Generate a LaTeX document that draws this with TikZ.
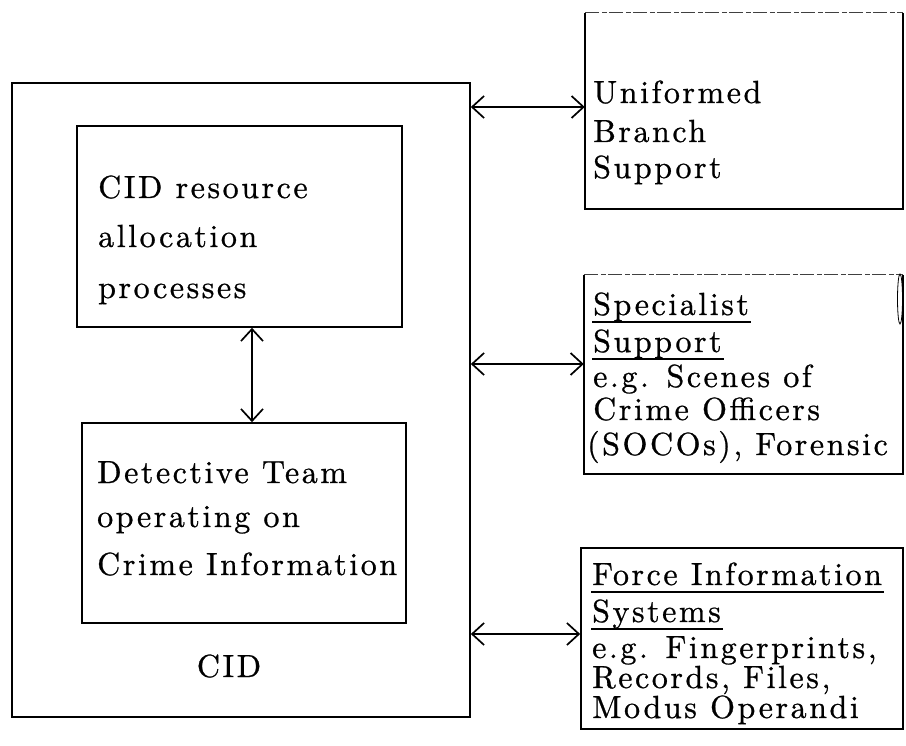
\documentclass[tikz,border=0pt]{standalone}
\usepackage{fontspec}
\usetikzlibrary{arrows.meta}
\newfontfamily\typefont{lmroman10-regular}[Extension=.otf, LetterSpace=8, FakeBold=0.8]
\begin{document}
\begin{tikzpicture}[x=1pt,y=-1pt,
  box/.style={draw, line width=1.6pt, inner sep=0pt},
  frame/.style={inner sep=0pt},
  edge/.style={line width=1.6pt},
  faded/.style={line width=1.2pt, black!75, dash pattern=on 14pt off 3pt on 5pt off 2pt},
  txt/.style={anchor=base west, inner sep=0pt,
    font=\typefont\fontsize{32}{38}\selectfont},
  link/.style={line width=1.7pt,
    {Straight Barb[length=12pt,width=22pt]}-{Straight Barb[length=12pt,width=22pt]}},
  uline/.style={line width=1.4pt}]
\useasboundingbox (0,0) rectangle (906,746);

% CID and its two inner boxes
\node[box, minimum width=458pt, minimum height=634pt] (cid) at (241,400) {};
\node[box, minimum width=325pt, minimum height=201pt] (res) at (239.5,226.5) {};
\node[box, minimum width=324pt, minimum height=200pt] (det) at (244,523) {};

\node[txt] (r1) at (98,198) {CID resource};
\node[txt] (r2) at (98,247) {allocation};
\node[txt] (r3) at (98,298) {processes};

\node[txt] (d1) at (97,483) {Detective Team};
\node[txt] (d2) at (97,527) {operating on};
\node[txt] (d3) at (97,575) {Crime Information};

\node[txt, anchor=base] (cidlabel) at (229,677) {CID};

% support boxes on the right; the upper two have a faint top edge
\node[frame, minimum width=318pt, minimum height=196pt] (uni) at (744,111) {};
\node[frame, minimum width=319pt, minimum height=199pt] (spe) at (743.5,374.5) {};
\node[box, minimum width=322pt, minimum height=181pt] (frc) at (742,638.5) {};
\foreach \b in {uni,spe} {
  \draw[edge] (\b.north east) -- (\b.south east) -- (\b.south west) -- (\b.north west);
  \draw[faded] (\b.north west) -- (\b.north east);
}

\node[txt] (u1) at (593,103) {Uniformed};
\node[txt] (u2) at (593,142) {Branch};
\node[txt] (u3) at (593,178) {Support};

\node[txt] (s1) at (593,315) {Specialist};
\node[txt] (s2) at (593,352) {Support};
\node[txt] (s3) at (593,387) {e.g. Scenes of};
\node[txt] (s4) at (593,420) {Crime Officers};
\node[txt] (s5) at (587,455) {(SOCOs), Forensic};

\node[txt] (f1) at (592,585) {Force Information};
\node[txt] (f2) at (592,622) {Systems};
\node[txt] (f3) at (592,658) {e.g. Fingerprints,};
\node[txt] (f4) at (592,688) {Records, Files,};
\node[txt] (f5) at (592,718) {Modus Operandi};

% heading underlines
\foreach \t in {s1,s2,f1,f2}
  \draw[uline] ([shift={(-1,7)}]\t.base west) -- ([shift={(2,7)}]\t.base east);

% small mark at the top right of the specialist box
\draw[line width=0.8pt] (900,299) ellipse (2.5 and 25);

% connectors
\coordinate (ya) at (0,107);
\coordinate (yb) at (0,364);
\coordinate (yc) at (0,634);
\coordinate (vx) at (252,0);
\draw[link] (cid.east |- ya) -- (uni.west |- ya);
\draw[link] (cid.east |- yb) -- (spe.west |- yb);
\draw[link] (cid.east |- yc) -- (frc.west |- yc);
\draw[link] (res.south -| vx) -- (det.north -| vx);
\end{tikzpicture}
\end{document}
